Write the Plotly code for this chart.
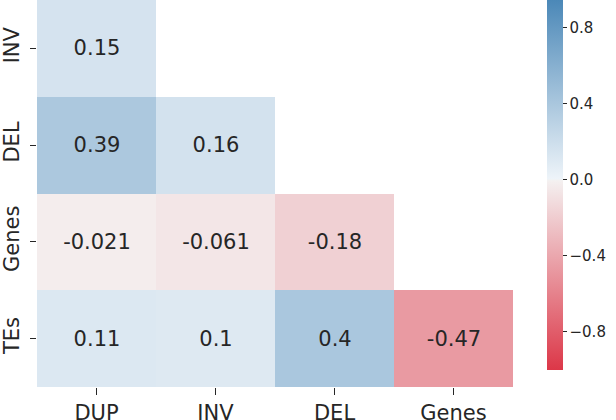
import plotly.graph_objects as go

cols = ["DUP", "INV", "DEL", "Genes"]
rows = ["INV", "DEL", "Genes", "TEs"]
vals = [
    [0.15, None, None, None],
    [0.39, 0.16, None, None],
    [-0.021, -0.061, -0.18, None],
    [0.11, 0.1, 0.4, -0.47],
]
labels = [
    ["0.15", "", "", ""],
    ["0.39", "0.16", "", ""],
    ["-0.021", "-0.061", "-0.18", ""],
    ["0.11", "0.1", "0.4", "-0.47"],
]
cbar_vals = [-0.8, -0.4, 0.0, 0.4, 0.8]
cbar_text = ["\u22120.8", "\u22120.4", "0.0", "0.4", "0.8"]

W, H = 616, 420
FONT = "DejaVu Sans"
INK = "#262626"

colorscale = [
    [0.0, "rgb(220,55,72)"],
    [0.497, "rgb(244,240,240)"],
    [0.5, "rgb(242,242,242)"],
    [0.503, "rgb(238,244,249)"],
    [1.0, "rgb(66,130,180)"],
]

fig = go.Figure(go.Heatmap(
    z=vals, x=cols, y=rows, text=labels, texttemplate="%{text}",
    textfont=dict(family=FONT, size=21, color=INK),
    zmin=-1, zmax=1, colorscale=colorscale,
    hoverongaps=False,
    colorbar=dict(
        xref="container", yref="container",
        x=547 / W, xanchor="left", y=1 - 195 / H, yanchor="middle",
        thickness=16, thicknessmode="pixels", len=380, lenmode="pixels",
        outlinewidth=0, xpad=0, ypad=0,
        tickvals=cbar_vals, ticktext=cbar_text, ticks="outside", ticklen=4,
        tickcolor=INK, tickfont=dict(family=FONT, size=15, color=INK),
    ),
))

fig.update_layout(
    width=W, height=H,
    margin=dict(l=37, r=W - 513, t=0, b=H - 387, autoexpand=False),
    paper_bgcolor="white", plot_bgcolor="white",
    font=dict(family=FONT, color=INK),
    xaxis=dict(showgrid=False, zeroline=False, ticks="outside", ticklen=7,
               tickcolor=INK, tickfont=dict(size=21, color=INK), showline=False),
    yaxis=dict(showgrid=False, zeroline=False, ticks="outside", ticklen=6,
               tickcolor=INK, tickfont=dict(size=21, color=INK), tickangle=-90,
               autorange="reversed", showline=False, ticklabelstandoff=3),
)

fig.write_html("out.html", config={"displayModeBar": False},
               post_script="document.body.style.margin='0';")
